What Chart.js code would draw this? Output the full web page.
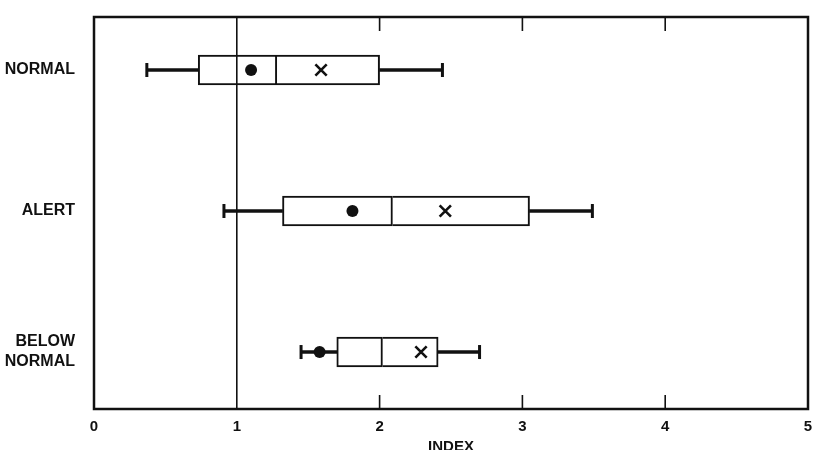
<!DOCTYPE html>
<html>
<head>
<meta charset="utf-8">
<script src="https://cdn.jsdelivr.net/npm/chart.js@4"></script>
<style>
  body { margin: 0; background: #fff; overflow: hidden; }
</style>
</head>
<body>
<canvas id="boxChart" width="813" height="450"></canvas>
<script>
// categorias e valores
const categories = ['NORMAL', 'ALERT', ['BELOW', 'NORMAL']];
const whiskerLow = [0.37, 0.91, 1.45];
const q1 = [0.73, 1.32, 1.70];
const median = [1.28, 2.09, 2.02];
const q3 = [2.00, 3.05, 2.41];
const whiskerHigh = [2.44, 3.49, 2.70];
const dotValues = [1.10, 1.81, 1.58];
const crossValues = [1.59, 2.46, 2.29];
const xTicks = [0, 1, 2, 3, 4, 5];
const innerTicks = [2, 3, 4];
const referenceLine = 1;

const ink = '#111';
const family = "'Liberation Sans', Arial, sans-serif";

const idx = categories.map((c, i) => i);

// moldura, marcas internas e linha em 1
const framePlugin = {
    id: 'frame',
    afterDatasetsDraw(chart) {
        const { ctx, chartArea: a, scales: { x } } = chart;
        ctx.save();
        ctx.strokeStyle = ink;
        ctx.lineWidth = 1.6;
        const rx = x.getPixelForValue(referenceLine);
        ctx.beginPath();
        ctx.moveTo(rx, a.top);
        ctx.lineTo(rx, a.bottom);
        innerTicks.forEach(v => {
            const px = x.getPixelForValue(v);
            ctx.moveTo(px, a.top);
            ctx.lineTo(px, a.top + 14);
            ctx.moveTo(px, a.bottom);
            ctx.lineTo(px, a.bottom - 14);
        });
        ctx.stroke();
        ctx.lineWidth = 2.5;
        ctx.strokeRect(a.left, a.top, a.right - a.left, a.bottom - a.top);
        ctx.restore();
    }
};

const boxStyle = {
    type: 'bar',
    indexAxis: 'y',
    grouped: false,
    barThickness: 30,
    backgroundColor: '#fff',
    borderColor: ink,
    borderSkipped: false
};

const whiskerStyle = {
    type: 'bar',
    indexAxis: 'y',
    grouped: false,
    barThickness: 3,
    backgroundColor: ink,
    borderWidth: 0
};

const ctx = document.getElementById('boxChart').getContext('2d');
const boxChart = new Chart(ctx, {
    data: {
        datasets: [
            { ...whiskerStyle, order: 6, data: idx.map(i => ({ y: i, x: [whiskerLow[i], q1[i]] })) },
            { ...whiskerStyle, order: 6, data: idx.map(i => ({ y: i, x: [q3[i], whiskerHigh[i]] })) },
            { ...boxStyle, order: 5, borderWidth: 2, data: idx.map(i => ({ y: i, x: [q1[i], median[i]] })) },
            { ...boxStyle, order: 5, borderWidth: { top: 2, bottom: 2, right: 2, left: 0 },
              data: idx.map(i => ({ y: i, x: [median[i], q3[i]] })) },
            {
                type: 'scatter', order: 3,
                data: idx.flatMap(i => [{ x: whiskerLow[i], y: i }, { x: whiskerHigh[i], y: i }]),
                pointStyle: 'line', rotation: 90, radius: 7,
                borderColor: ink, borderWidth: 3
            },
            {
                type: 'scatter', order: 2,
                data: idx.map(i => ({ x: dotValues[i], y: i })),
                pointStyle: 'circle', radius: 6,
                backgroundColor: ink, borderColor: ink, borderWidth: 0
            },
            {
                type: 'scatter', order: 1,
                data: idx.map(i => ({ x: crossValues[i], y: i })),
                pointStyle: 'crossRot', radius: 8,
                borderColor: ink, borderWidth: 2.6
            }
        ]
    },
    options: {
        responsive: false,
        animation: false,
        layout: { autoPadding: false, padding: { top: 17, right: 5, left: 0, bottom: 0 } },
        plugins: {
            legend: { display: false },
            tooltip: { enabled: false }
        },
        scales: {
            x: {
                type: 'linear',
                min: 0,
                max: 5,
                offset: false,
                afterBuildTicks: s => { s.ticks = xTicks.map(v => ({ value: v })); },
                afterFit: s => { s.height = 41; s.paddingLeft = 0; s.paddingRight = 0; },
                grid: { display: false },
                border: { display: false },
                ticks: { color: ink, font: { family, size: 15, weight: 'bold' }, padding: 1, maxRotation: 0 },
                title: {
                    display: true,
                    text: 'INDEX',
                    color: ink,
                    font: { family, size: 15, weight: 'bold' },
                    padding: { top: 0, bottom: -6 }
                }
            },
            y: {
                type: 'linear',
                reverse: true,
                min: -0.376,
                max: 2.404,
                offset: false,
                afterBuildTicks: s => { s.ticks = idx.map(v => ({ value: v })); },
                afterFit: s => { s.width = 94; s.paddingTop = 0; s.paddingBottom = 0; },
                grid: { display: false },
                border: { display: false },
                ticks: {
                    color: ink,
                    font: { family, size: 16, weight: 'bold', lineHeight: 1.25 },
                    padding: 11,
                    callback: v => categories[v]
                }
            }
        }
    },
    plugins: [framePlugin]
});
</script>
</body>
</html>
